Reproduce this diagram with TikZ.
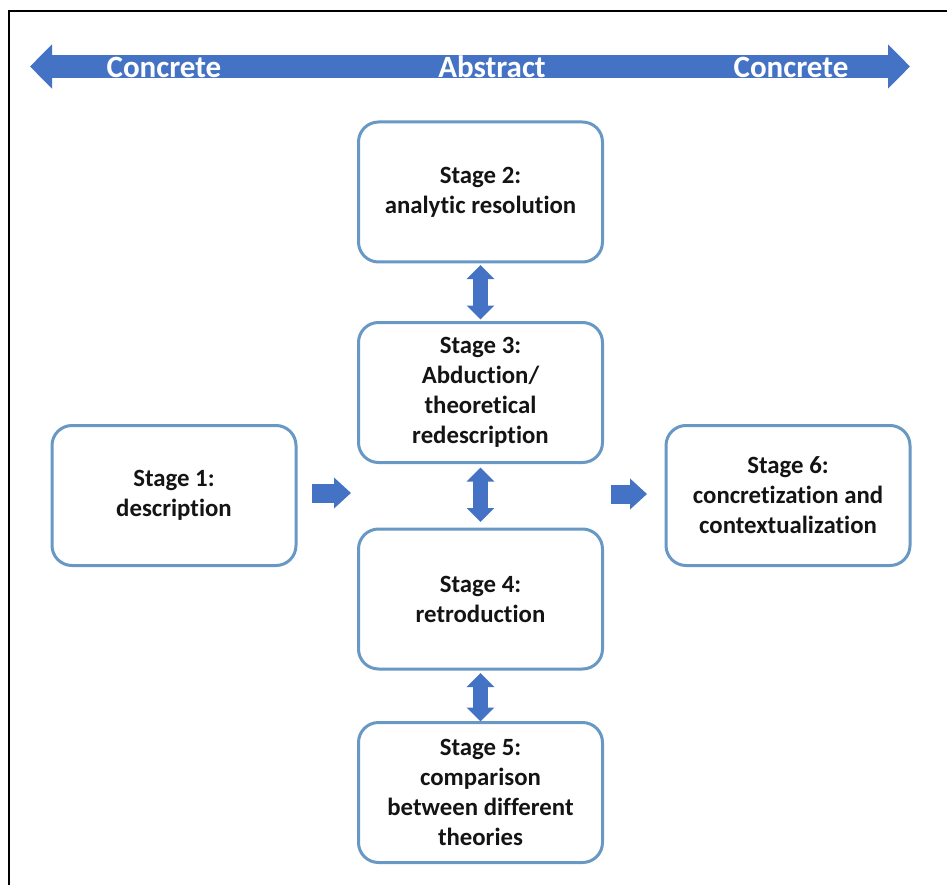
\documentclass[tikz,border=0pt]{standalone}
\usepackage{fontspec}
\setmainfont{Carlito}[Ligatures=NoCommon]
\usetikzlibrary{arrows.meta,calc}
\definecolor{boxline}{RGB}{104,152,196}
\definecolor{arrowblue}{RGB}{68,114,196}
\definecolor{textdark}{RGB}{20,20,20}
\begin{document}
\begin{tikzpicture}[x=1pt,y=-1pt,
  stagebox/.style={draw=boxline, line width=3pt, fill=white, rounded corners=20pt,
    minimum width=244pt, minimum height=140pt, inner sep=0pt, outer sep=0pt,
    align=center, text=textdark, font=\fontsize{24.8}{30}\selectfont\bfseries},
  banner/.style={draw=arrowblue, line width=23pt,
    {Triangle[width=43pt,length=22pt]}-{Triangle[width=43pt,length=22pt]}},
  bannertext/.style={text=white, font=\fontsize{31}{31}\selectfont\bfseries, inner sep=0pt},
  flowarrow/.style={draw=arrowblue, line width=19pt, -{Triangle[width=30pt,length=17pt]}},
  linkarrow/.style={draw=arrowblue, line width=15pt,
    {Triangle[width=27pt,length=14pt]}-{Triangle[width=27pt,length=14pt]}}
]
\useasboundingbox (0,0) rectangle (947,885);
\fill[white] (0,0) rectangle (947,885);
% frame lines on the left and top
\draw[line width=1.5pt, black] (9,885) -- (9,11) -- (947,11);

% banner arrow with its labels
\coordinate (bl) at (30,66.5);
\coordinate (br) at (910,66.5);
\draw[banner] (bl) -- (br);
\node[bannertext] (tl) at (164,67) {Concrete};
\node[bannertext] (tm) at (492,67) {Abstract};
\node[bannertext] (tr) at (791,67) {Concrete};

% stage boxes
\node[stagebox] (s1) at (174,495.5) {Stage 1:\\description};
\node[stagebox] (s2) at (480.5,192) {Stage 2:\\analytic resolution};
\node[stagebox] (s3) at (480.5,392.5) {Stage 3:\\Abduction/\\theoretical\\redescription};
\node[stagebox] (s4) at (480.5,599) {Stage 4:\\retroduction};
\node[stagebox] (s5) at (480.5,792.5) {Stage 5:\\comparison\\between different\\theories};
\node[stagebox] (s6) at (788,495.5) {Stage 6:\\concretization and\\contextualization};

% links between the stages
\draw[linkarrow, shorten <=3pt, shorten >=3pt] (s2.south) -- (s3.north);
\draw[linkarrow, shorten <=5pt, shorten >=7pt] (s3.south) -- (s4.north);
\draw[linkarrow, shorten <=4pt, shorten >=1pt] (s4.south) -- (s5.north);

\coordinate (g1) at (351,493);
\coordinate (g2) at (611,494);
\draw[flowarrow] ([xshift=16pt]s1.east |- g1) -- (g1);
\draw[flowarrow] (g2) -- ([xshift=-19pt]s6.west |- g2);
\end{tikzpicture}
\end{document}
